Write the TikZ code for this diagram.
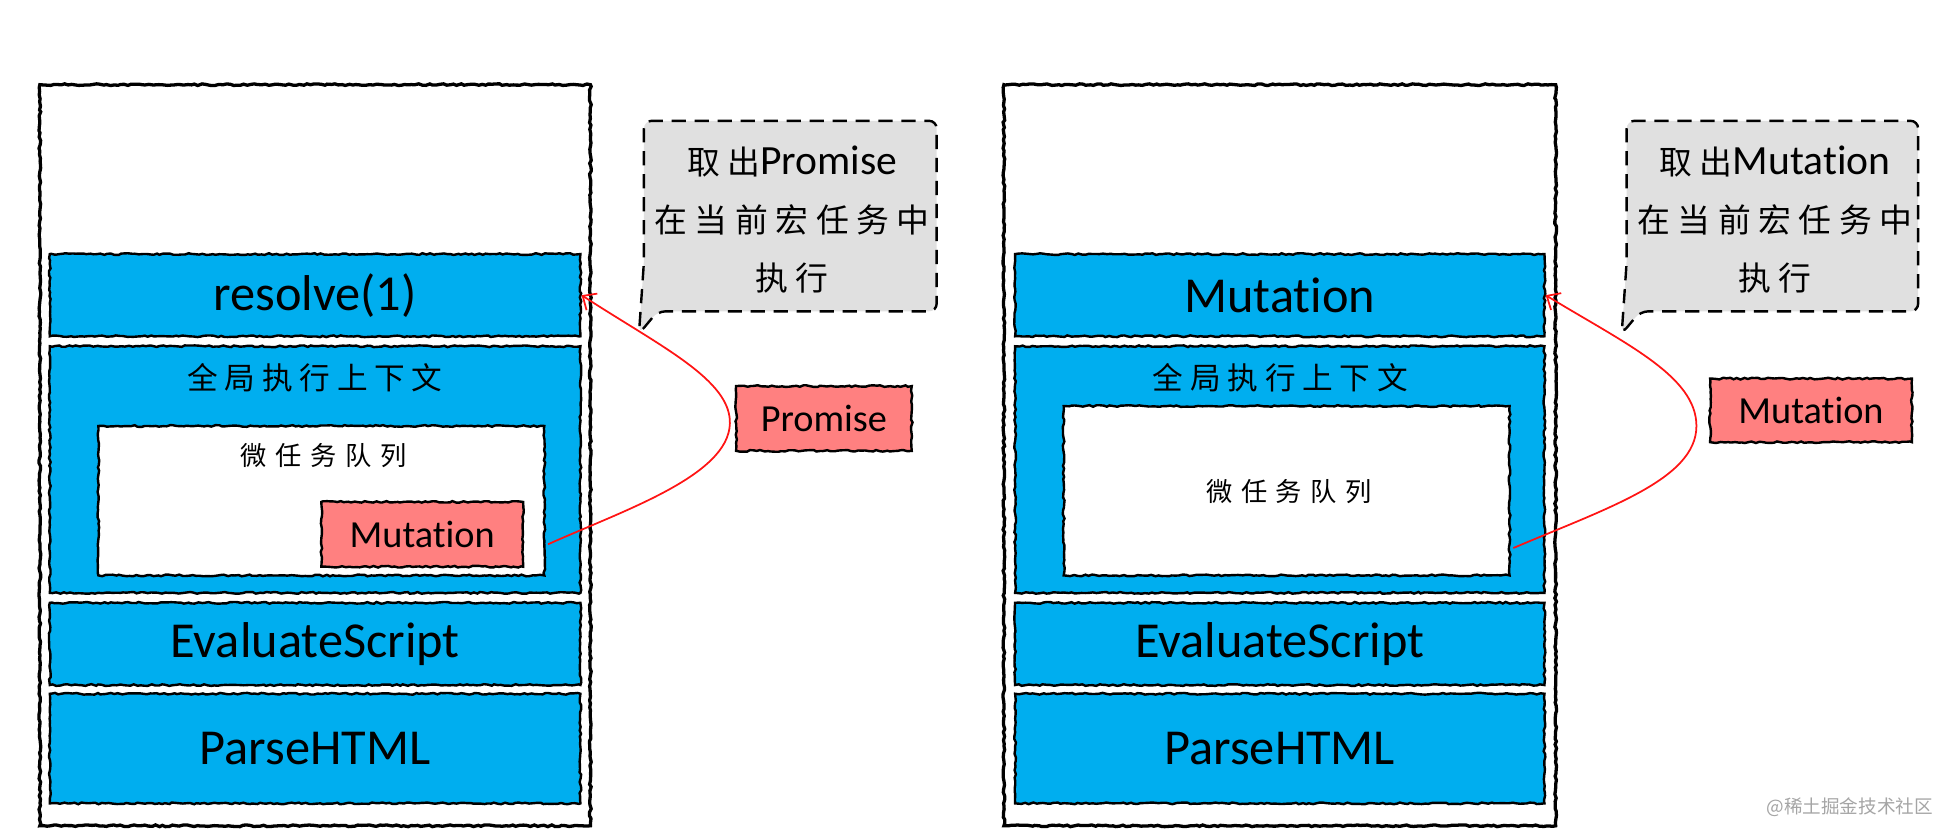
\documentclass[tikz,border=0pt]{standalone}
\usepackage{fontspec}
\setmainfont{Carlito}[Ligatures=NoCommon]
\newfontfamily\latinfont{Carlito}[Ligatures=NoCommon]
\newfontfamily\cjk{Noto Sans CJK SC}
\newfontfamily\cjkA[LetterSpace=22]{Noto Sans CJK SC}
\newfontfamily\cjkB[LetterSpace=33]{Noto Sans CJK SC}
\newfontfamily\cjkC[LetterSpace=23]{Noto Sans CJK SC}
\usetikzlibrary{decorations.pathmorphing,arrows.meta,fit,calc}
\definecolor{taskblue}{RGB}{0,174,239}
\definecolor{taskpink}{RGB}{255,128,128}
\definecolor{calloutgray}{RGB}{224,224,224}
\definecolor{markgray}{RGB}{165,165,165}
\definecolor{flowred}{RGB}{255,20,20}
\tikzset{
  rough/.style={decorate, decoration={random steps, segment length=1.6pt, amplitude=0.4pt}},
  outerframe/.style={draw=black, fill=white, line width=1.5pt, rough, inner sep=0pt},
  taskbox/.style={draw=black, fill=taskblue, line width=1.1pt, rough, inner sep=0pt},
  tasktext/.style={inner sep=0pt, font=\fontsize{23}{27}\selectfont},
  queuebox/.style={draw=black, fill=white, line width=1.1pt, rough, inner sep=0pt},
  pinkbox/.style={draw=black, fill=taskpink, line width=1.1pt, rough, inner sep=0pt},
  pinktext/.style={inner sep=0pt, font=\fontsize{17.5}{20}\selectfont},
  ctxtitle/.style={font=\cjkA\fontsize{14}{16}\selectfont, inner sep=0pt},
  queuetitle/.style={font=\cjkB\fontsize{12}{14}\selectfont, inner sep=0pt},
  callout/.style={draw=black, fill=calloutgray, line width=1.1pt, dash pattern=on 6.5pt off 4pt},
  callouttext/.style={align=center, inner sep=0pt, font=\cjkC\fontsize{15}{26.5}\selectfont},
  flow/.style={draw=flowred, line width=0.8pt, -{Straight Barb[length=5pt,width=9pt]}},
  watermark/.style={text=markgray, inner sep=0pt, font=\cjk\fontsize{8.5}{10}\selectfont}
}
\begin{document}
\begin{tikzpicture}[x=0.2mm, y=-0.2mm]
\pgfmathsetseed{7}
\useasboundingbox (0,0) rectangle (1568,674);

% ---------------- left panel ----------------
\node[outerframe, fit={(32,68)(474,663)}] (frameL) {};
\node[taskbox, fit={(40,204)(466,270)}] (resolve) {};
\node[tasktext] (resolveText) at (resolve.center) {resolve(1)};
\node[taskbox, fit={(40,278)(466,476)}] (ctxL) {};
\node[ctxtitle] (ctxLtitle) at (253,303) {全局执行上下文};
\node[queuebox, fit={(79,342)(437,462)}] (queueL) {};
\node[queuetitle] (queueLtitle) at (260,366) {微任务队列};
\node[pinkbox, fit={(258,403)(420,455)}] (mutL) {};
\node[pinktext] (mutLText) at (mutL.center) {Mutation};
\node[taskbox, fit={(40,484)(466,550)}] (evalL) {};
\node[tasktext] (evalLText) at (evalL.center) {EvaluateScript};
\node[taskbox, fit={(40,557)(466,645)}] (parseL) {};
\node[tasktext] (parseLText) at (parseL.center) {ParseHTML};

\coordinate (srcL) at (440,437);
\draw[flow] (srcL) .. controls (500,410) and (585,382) .. (586,340)
  .. controls (587,305) and (530,278) .. (resolve.east);

\draw[callout, rounded corners=3.5pt] (513,268) -- (517,210) -- (517,97) -- (752,97) -- (752,250) -- (528,250) -- cycle;
\node[callouttext] (noteL) at (636,176) {取出{\latinfont\fontsize{19}{26.5}\selectfont Promise}\\在当前宏任务中\\执行};
\node[pinkbox, fit={(591,310)(732,362)}] (promise) {};
\node[pinktext] (promiseText) at (promise.center) {Promise};

% ---------------- right panel ----------------
\node[outerframe, fit={(806,68)(1249,663)}] (frameR) {};
\node[taskbox, fit={(815,204)(1240,270)}] (mutTop) {};
\node[tasktext] (mutTopText) at (mutTop.center) {Mutation};
\node[taskbox, fit={(815,278)(1240,476)}] (ctxR) {};
\node[ctxtitle] (ctxRtitle) at (1028,303) {全局执行上下文};
\node[queuebox, fit={(854,326)(1212,462)}] (queueR) {};
\node[queuetitle] (queueRtitle) at (1035,395) {微任务队列};
\node[taskbox, fit={(815,484)(1240,550)}] (evalR) {};
\node[tasktext] (evalRText) at (evalR.center) {EvaluateScript};
\node[taskbox, fit={(815,557)(1240,645)}] (parseR) {};
\node[tasktext] (parseRText) at (parseR.center) {ParseHTML};

\coordinate (srcR) at (1215,440);
\draw[flow] (srcR) .. controls (1290,408) and (1362,385) .. (1362,342)
  .. controls (1362,302) and (1305,276) .. (mutTop.east);

\draw[callout, rounded corners=3.5pt] (1302,268) -- (1306,210) -- (1306,97) -- (1540,97) -- (1540,250) -- (1317,250) -- cycle;
\node[callouttext] (noteR) at (1425,176) {取出{\latinfont\fontsize{19}{26.5}\selectfont Mutation}\\在当前宏任务中\\执行};
\node[pinkbox, fit={(1373,304)(1535,355)}] (mutR) {};
\node[pinktext] (mutRText) at (mutR.center) {Mutation};

\node[watermark] (mark) at (1485,648) {@稀土掘金技术社区};
\end{tikzpicture}
\end{document}
